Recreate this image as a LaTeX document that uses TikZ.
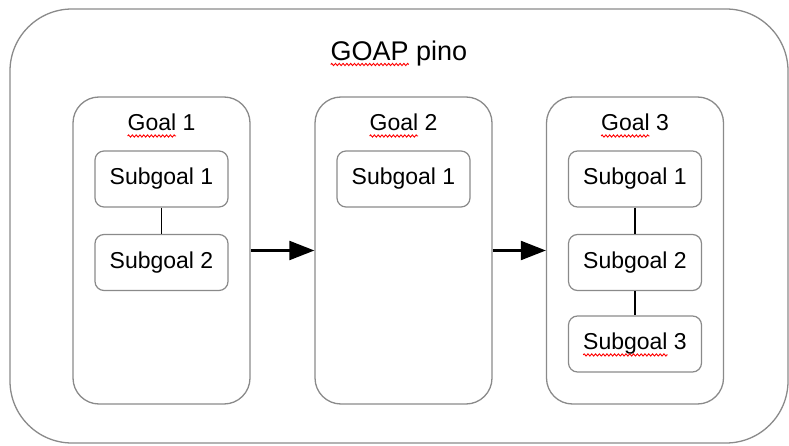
\documentclass[tikz,border=0pt]{standalone}
\usepackage{fontspec}
\setmainfont{Liberation Sans}
\usetikzlibrary{arrows.meta,decorations.pathmorphing}

\definecolor{boxgray}{RGB}{138,138,138}
\newcommand\titlefont{\fontsize{27}{32}\selectfont}
\newcommand\labelfont{\fontsize{23}{27}\selectfont}

% widths used to place the spelling marks under single words
\newlength\titlew   \newlength\titlewordw
\newlength\goalw    \newlength\goalwordw
\newlength\subw     \newlength\subwordw

\begin{document}
\settowidth\titlew{\titlefont GOAP pino}
\settowidth\titlewordw{\titlefont GOAP}
\settowidth\goalw{\labelfont Goal 1}
\settowidth\goalwordw{\labelfont Goal}
\settowidth\subw{\labelfont Subgoal 3}
\settowidth\subwordw{\labelfont Subgoal}
\begin{tikzpicture}[x=1pt,y=-1pt,
  outerbox/.style={draw=boxgray, line width=1.3pt, rounded corners=62pt,
    minimum width=778pt, minimum height=434pt, inner sep=0pt},
  goalbox/.style={draw=boxgray, line width=1.3pt, rounded corners=26pt,
    minimum width=177pt, minimum height=307pt, inner sep=0pt},
  subbox/.style={draw=boxgray, line width=1.2pt, rounded corners=9pt,
    minimum width=133pt, minimum height=56pt, inner sep=0pt, font=\labelfont},
  goallbl/.style={anchor=base, inner sep=0pt, font=\labelfont},
  link/.style={draw=black, line width=1.2pt},
  flow/.style={draw=black, line width=2.2pt, -{Triangle[length=25pt,width=19pt]}},
  spell/.style={draw=red, line width=0.9pt,
    decorate, decoration={zigzag, segment length=3.8pt, amplitude=1.1pt}}]

\useasboundingbox (0,0) rectangle (789,446);

% outer container
\node[outerbox] (goap) at (399,226) {};
\node[anchor=base, inner sep=0pt, font=\titlefont] (title) at (399,61) {GOAP pino};

% goal containers
\node[goalbox] (g1) at (161.5,250.5) {};
\node[goalbox] (g2) at (403.5,250.5) {};
\node[goalbox] (g3) at (635,250.5) {};

\node[goallbl] (g1l) at (161.5,131) {Goal 1};
\node[goallbl] (g2l) at (403.5,131) {Goal 2};
\node[goallbl] (g3l) at (635,131) {Goal 3};

% subgoals
\node[subbox] (a1) at (161.5,179) {Subgoal 1};
\node[subbox] (a2) at (161.5,262.5) {Subgoal 2};

\node[subbox] (b1) at (403.5,179) {Subgoal 1};

\node[subbox] (c1) at (635,179) {Subgoal 1};
\node[subbox] (c2) at (635,262.5) {Subgoal 2};
\node[subbox] (c3) at (635,344) {Subgoal 3};

% links between subgoals
\draw[link] (a1.south) -- (a2.north);
\draw[link] (c1.south) -- (c2.north);
\draw[link] (c2.south) -- (c3.north);

% flow between goals
\draw[flow] (g1.east) -- (g2.west);
\draw[flow] (g2.east) -- (g3.west);

% spelling marks
\draw[spell] ([xshift=-0.5\titlew, yshift=-3.5pt]title.base) -- ++(\titlewordw,0);
\draw[spell] ([xshift=-0.5\goalw, yshift=-5pt]g1l.base) -- ++(\goalwordw,0);
\draw[spell] ([xshift=-0.5\goalw, yshift=-5pt]g2l.base) -- ++(\goalwordw,0);
\draw[spell] ([xshift=-0.5\goalw, yshift=-5pt]g3l.base) -- ++(\goalwordw,0);
\draw[spell] ([xshift=-0.5\subw, yshift=-5pt]c3.base) -- ++(\subwordw,0);
\end{tikzpicture}
\end{document}
